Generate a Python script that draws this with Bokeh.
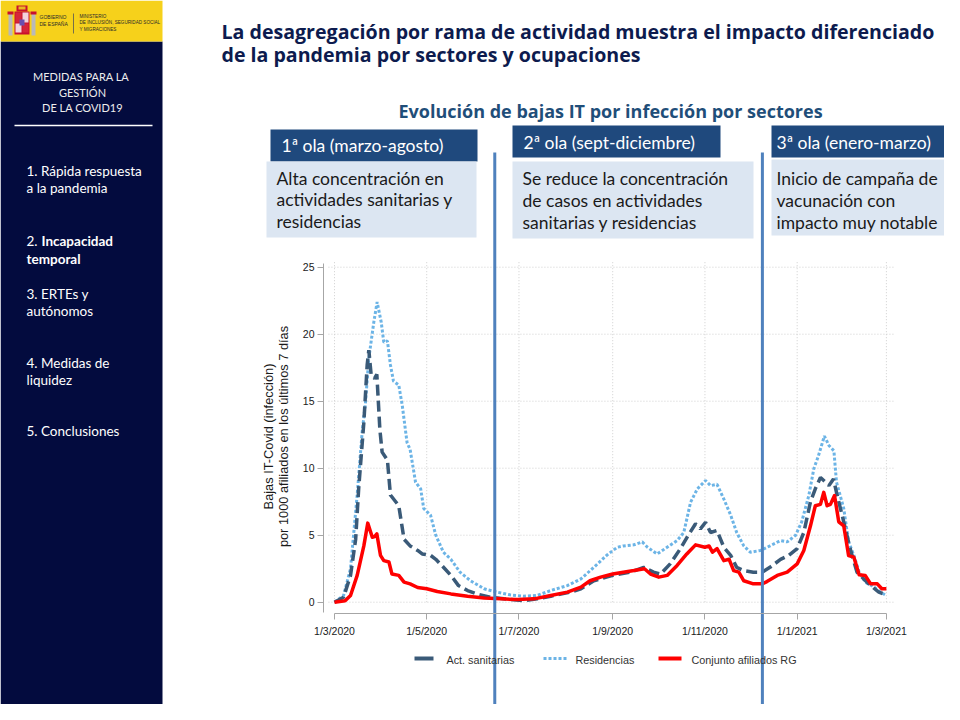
from datetime import date
from math import pi

from bokeh.plotting import figure
from bokeh.models import Range1d, LinearAxis, FixedTicker
from bokeh.core.properties import value
from bokeh.embed import file_html
from bokeh.resources import INLINE

# ---------------- data ----------------
START = date(2020, 3, 1)
tick_dates = [date(2020, 3, 1), date(2020, 5, 1), date(2020, 7, 1), date(2020, 9, 1),
              date(2020, 11, 1), date(2021, 1, 1), date(2021, 3, 1)]
tick_labels = ["1/3/2020", "1/5/2020", "1/7/2020", "1/9/2020",
               "1/11/2020", "1/1/2021", "1/3/2021"]
y_ticks = [0, 5, 10, 15, 20, 25]
wave_limits = [date(2020, 6, 15), date(2020, 12, 9)]

# days since 1 March 2020 / value (bajas por 1000 afiliados, 7 dias)
san_day = [0, 6, 10.6, 14, 16, 19.4, 21.6, 22.7, 24.3, 26.5,
           28, 30, 31.5, 35, 37, 42.5, 46, 50, 55, 58,
           63.5, 67, 71, 77, 82, 88, 94, 103, 112, 125,
           134, 143, 156, 163, 171.5, 184, 195.7, 204.5, 211, 215.6,
           222, 228.8, 234, 238.8, 242, 245.4, 248.7, 253, 257.5, 262,
           266, 270.7, 277, 282.8, 288, 295, 300.5, 306, 310.4, 314.8,
           318, 321.4, 324.7, 327, 330, 332.5, 336.8, 341, 345.6, 350,
           354.6, 360, 365]
san_val = [0, 0.37, 2.0, 4.7, 8.5, 13.4, 17.7, 18.8, 16.9, 16.7,
           17.0, 12.9, 11.2, 10.6, 8.0, 7.2, 4.7, 4.2, 3.86, 3.6,
           3.5, 3.2, 2.74, 2.0, 1.24, 0.87, 0.62, 0.37, 0.25, 0.12,
           0.25, 0.45, 0.75, 1.0, 1.6, 2.0, 2.24, 2.6, 2.24, 2.1,
           2.86, 4.0, 5.0, 5.85, 5.47, 5.97, 5.2, 5.35, 4.1, 3.5,
           2.6, 2.36, 2.24, 2.24, 2.6, 3.2, 3.5, 4.0, 5.2, 7.5,
           8.46, 9.3, 8.96, 8.7, 9.2, 7.96, 6.0, 4.0, 2.24, 1.74,
           1.24, 0.75, 0.55]

res_day = [0, 6, 10.6, 15, 18.3, 20.5, 22.7, 26, 28.2, 30.9,
           32.6, 35, 37, 39, 42.5, 44.8, 48, 50, 53.6, 57,
           59, 63.5, 67, 72, 77, 83, 90, 99, 107.6, 116,
           125, 134, 143, 154, 163, 171.5, 180, 187, 191, 198,
           203.5, 207, 213.4, 220, 226.6, 231, 235.5, 240, 245.4, 248.7,
           253, 257.5, 262, 266, 270.7, 275, 281.7, 288, 295, 299.4,
           305, 309, 313.7, 317, 320, 324, 327, 330.3, 332, 336.8,
           340, 343.5, 347, 351, 357, 361, 365]
res_val = [0, 0.5, 2.5, 8.0, 12.7, 14.9, 18.2, 20.9, 22.4, 20.9,
           19.4, 19.5, 17.7, 16.5, 16.2, 14.7, 11.9, 11.4, 8.96, 8.46,
           7.0, 6.5, 5.0, 3.73, 3.2, 2.24, 1.6, 1.0, 0.75, 0.55,
           0.45, 0.5, 0.87, 1.24, 1.74, 2.6, 3.5, 4.1, 4.2, 4.28,
           4.5, 4.1, 3.6, 4.1, 4.6, 5.2, 7.46, 8.46, 9.08, 8.7,
           8.8, 7.7, 6.5, 5.2, 4.2, 3.73, 3.86, 4.2, 4.6, 4.5,
           5.0, 6.0, 7.96, 9.95, 10.9, 12.4, 11.7, 11.3, 8.96, 7.0,
           4.5, 3.5, 2.24, 1.5, 1.12, 0.75, 0.5]

rg_day = [0, 7, 10.6, 15, 19.4, 22, 25, 26.5, 28, 30.4,
          32.6, 36, 38, 42.5, 46, 50, 55, 61, 68, 77,
          88, 99, 110, 121, 132, 143, 154, 163, 169, 176,
          184, 191, 198, 205, 209, 214.5, 220, 226.6, 233, 238.8,
          245, 247.7, 250, 253, 257.5, 261, 264, 267.4, 270.7, 277,
          282.8, 286, 292.8, 299.4, 306, 310.4, 314.8, 318, 321.4, 323.6,
          325.8, 328, 330.7, 333.5, 336.8, 340, 343.5, 347, 351, 354.6,
          359, 362, 365]
rg_val = [0, 0.1, 0.5, 2.0, 4.2, 5.9, 4.85, 4.9, 5.1, 3.5,
          3.1, 3.0, 2.1, 2.0, 1.5, 1.37, 1.1, 1.0, 0.8, 0.62,
          0.45, 0.32, 0.25, 0.2, 0.25, 0.5, 0.75, 1.12, 1.6, 1.87,
          2.1, 2.24, 2.36, 2.5, 2.1, 1.87, 2.0, 2.74, 3.6, 4.28,
          4.1, 4.2, 3.73, 4.0, 3.1, 3.2, 2.36, 2.24, 1.6, 1.37,
          1.37, 1.54, 2.0, 2.24, 2.86, 3.86, 5.7, 7.2, 7.3, 8.2,
          7.2, 7.3, 7.96, 6.0, 5.7, 3.48, 3.36, 2.04, 2.0, 1.37,
          1.37, 1.0, 1.0]

series_names = ["Act. sanitarias", "Residencias", "Conjunto afiliados RG"]
wave_titles = ["1ª ola (marzo-agosto)", "2ª ola (sept-diciembre)", "3ª ola (enero-marzo)"]
wave_texts = [["Alta concentración en", "actividades sanitarias y", "residencias"],
              ["Se reduce la concentración", "de casos en actividades", "sanitarias y residencias"],
              ["Inicio de campaña de", "vacunación con", "impacto muy notable"]]
menu_items = [["1. Rápida respuesta", "a la pandemia"],
              ["2. ", "Incapacidad", "temporal"],
              ["3. ERTEs y", "autónomos"],
              ["4. Medidas de", "liquidez"],
              ["5. Conclusiones"]]

# ---------------- layout constants (pixels of the 960x720 slide) ----------------
W, H = 944, 704
X0_PX, PX_PER_DAY = 334.0, 1.512      # x of 1/3/2020, pixels per day
Y0_PX, PX_PER_UNIT = 601.7, 13.4      # y of value 0, pixels per unit

tick_days = [(d - START).days for d in tick_dates]
wave_days = [(d - START).days for d in wave_limits]

p = figure(width=W, height=H, output_backend="svg", toolbar_location=None,
           x_range=Range1d((0 - X0_PX) / PX_PER_DAY, (W - X0_PX) / PX_PER_DAY),
           y_range=Range1d((Y0_PX - H) / PX_PER_UNIT, (Y0_PX - 0) / PX_PER_UNIT),
           x_axis_location=None, y_axis_location=None, min_border=0,
           outline_line_color=None, background_fill_color="white",
           border_fill_color="white")
p.grid.visible = False
p.extra_x_ranges = {"px": Range1d(0, W)}
p.extra_y_ranges = {"py": Range1d(H, 0)}

PX = dict(x_range_name="px", y_range_name="py")
CAL = "Lato"
TITLE_FONT = "Open Sans"
AXF = "Liberation Sans"


def rect(l, t, r, b, color):
    p.quad(left=[l], right=[r], top=[t], bottom=[b], fill_color=color,
           line_color=None, **PX)


def txt(x, y, s, size, color="#1a1a1a", font=CAL, style="normal",
        align="left", angle=0.0):
    p.text(x=[x], y=[y], text=[s], text_font=value(font), text_font_size=size,
           text_font_style=style, text_color=color, text_align=align,
           text_baseline="middle", angle=angle, **PX)


# ---------------- side bar ----------------
rect(0, 41, 162, 720, "#030B3E")
rect(0, 0, 162, 41, "#F6D11B")
# simplified coat of arms
rect(8, 13, 12, 35, "#B9B9B9")
rect(31, 13, 35, 35, "#B9B9B9")
rect(7, 11, 13, 14, "#C8102E")
rect(30, 11, 36, 14, "#C8102E")
rect(16, 5, 27, 11, "#C8102E")
rect(18, 6, 25, 9, "#E8B923")
rect(14, 11, 29, 34, "#C8102E")
rect(15, 12, 21, 22, "#D6263A")
rect(22, 12, 28, 22, "#F3D3DC")
rect(15, 23, 21, 32, "#F3D3DC")
rect(22, 23, 28, 32, "#D6263A")
rect(19, 19, 24, 25, "#6A4FB0")
p.segment(x0=[73], y0=[13], x1=[73], y1=[33], line_color="#555555", line_width=0.8, **PX)
txt(39, 16.5, "GOBIERNO", "5px", "#2a2a2a", AXF)
txt(39, 23, "DE ESPAÑA", "5px", "#2a2a2a", AXF)
txt(79, 16, "MINISTERIO", "4.6px", "#2a2a2a", AXF)
txt(79, 22.3, "DE INCLUSIÓN, SEGURIDAD SOCIAL", "4.6px", "#2a2a2a", AXF)
txt(79, 28.6, "Y MIGRACIONES", "4.6px", "#2a2a2a", AXF)

txt(82, 76, "MEDIDAS  PARA LA", "11px", "#EDEDED", align="center")
txt(82, 91.5, "GESTIÓN", "11px", "#EDEDED", align="center")
txt(82, 107, "DE LA COVID19", "11px", "#EDEDED", align="center")
p.segment(x0=[14], y0=[125], x1=[152], y1=[125], line_color="white", line_width=1.3, **PX)

menu_y = [170, 240, 293, 362, 430]
MENU_SIZE = "13.5px"
for item, y0 in zip(menu_items, menu_y):
    if len(item) == 3:
        txt(26, y0, item[0], MENU_SIZE, "white")
        txt(41, y0, item[1], MENU_SIZE, "white", style="bold")
        txt(26, y0 + 18, item[2], MENU_SIZE, "white", style="bold")
    else:
        for k, line in enumerate(item):
            txt(26, y0 + 17.5 * k, line, MENU_SIZE, "white")

# ---------------- titles ----------------
txt(221, 31, "La desagregación por rama de actividad muestra el impacto diferenciado",
    "19.6px", "#0D1B4E", TITLE_FONT, style="bold")
txt(221, 54, "de la pandemia por sectores y ocupaciones", "19.6px", "#0D1B4E",
    TITLE_FONT, style="bold")
txt(398, 110, "Evolución  de bajas IT por infección por sectores", "18px", "#1F4E79",
    TITLE_FONT, style="bold")

# ---------------- wave boxes ----------------
heads = [(270, 129, 477, 161), (512, 125, 720, 157), (771, 125, 954, 157)]
bodies = [(266, 161, 476, 237), (512, 161, 753, 238), (771, 159, 954, 235)]
head_tx = [(281, 145), (523, 141.5), (776, 141.5)]
body_tx = [(276, 177.5), (522, 178.3), (776, 178.3)]
for hb, bb, ht, bt, title, lines in zip(heads, bodies, head_tx, body_tx, wave_titles, wave_texts):
    rect(*hb, "#1F497D")
    rect(*bb, "#DCE6F2")
    txt(ht[0], ht[1], title, "17.5px", "white")
    for k, line in enumerate(lines):
        txt(bt[0], bt[1] + 21.7 * k, line, "17.5px", "#1a1a1a")

# ---------------- chart ----------------
# grid
p.segment(x0=[-4] * len(y_ticks), y0=y_ticks, x1=[370] * len(y_ticks), y1=y_ticks,
          line_color="#CFCFCF", line_width=1, line_dash="1 2")
p.segment(x0=tick_days, y0=[0] * len(tick_days), x1=tick_days, y1=[25.5] * len(tick_days),
          line_color="#CFCFCF", line_width=1, line_dash="1 2")

p.line(res_day, res_val, line_color="#6CB4E6", line_width=3, line_dash="3 2")
p.line(san_day, san_val, line_color="#3A5A78", line_width=3.5, line_dash="11 5")
p.line(rg_day, rg_val, line_color="#FF0000", line_width=3.5, line_join="round")

# wave limits
p.segment(x0=wave_days, y0=[152] * 2, x1=wave_days, y1=[725] * 2,
          line_color="#4F81BD", line_width=3, y_range_name="py")

# axes
yaxis = LinearAxis(fixed_location=(323 - X0_PX) / PX_PER_DAY, bounds=(-0.8, 25.3),
                   ticker=FixedTicker(ticks=y_ticks))
xaxis = LinearAxis(fixed_location=(Y0_PX - 613) / PX_PER_UNIT, bounds=(0, 365),
                   ticker=FixedTicker(ticks=tick_days),
                   major_label_overrides=dict(zip(tick_days, tick_labels)))
for ax in (yaxis, xaxis):
    ax.axis_line_color = "#A6A6A6"
    ax.major_tick_line_color = "#A6A6A6"
    ax.major_tick_out = 6
    ax.major_tick_in = 0
    ax.minor_tick_line_color = None
    ax.major_label_text_font = AXF
    ax.major_label_text_font_size = "10.5px"
    ax.major_label_text_color = "#1a1a1a"
yaxis.major_label_standoff = 3
xaxis.major_label_standoff = 5
p.add_layout(yaxis, "left")
p.add_layout(xaxis, "below")

txt(268, 436, "Bajas IT-Covid (infección)", "12.8px", "#1a1a1a", AXF,
    align="center", angle=pi / 2)
txt(283, 436, "por 1000 afiliados en los últimos 7 días", "12.8px", "#1a1a1a",
    AXF, align="center", angle=pi / 2)

# legend
leg_y = 658
p.segment(x0=[414], y0=[leg_y], x1=[433], y1=[leg_y], line_color="#3A5A78", line_width=4, **PX)
p.segment(x0=[543], y0=[leg_y], x1=[567], y1=[leg_y], line_color="#6CB4E6", line_width=3,
          line_dash="3 2", **PX)
p.segment(x0=[658], y0=[leg_y], x1=[681], y1=[leg_y], line_color="#FF0000", line_width=4, **PX)
for x, name in zip([446, 575, 691], series_names):
    txt(x, leg_y + 1.5, name, "10.8px", "#333333", AXF)

open("out.html", "w").write(file_html(p, INLINE))
